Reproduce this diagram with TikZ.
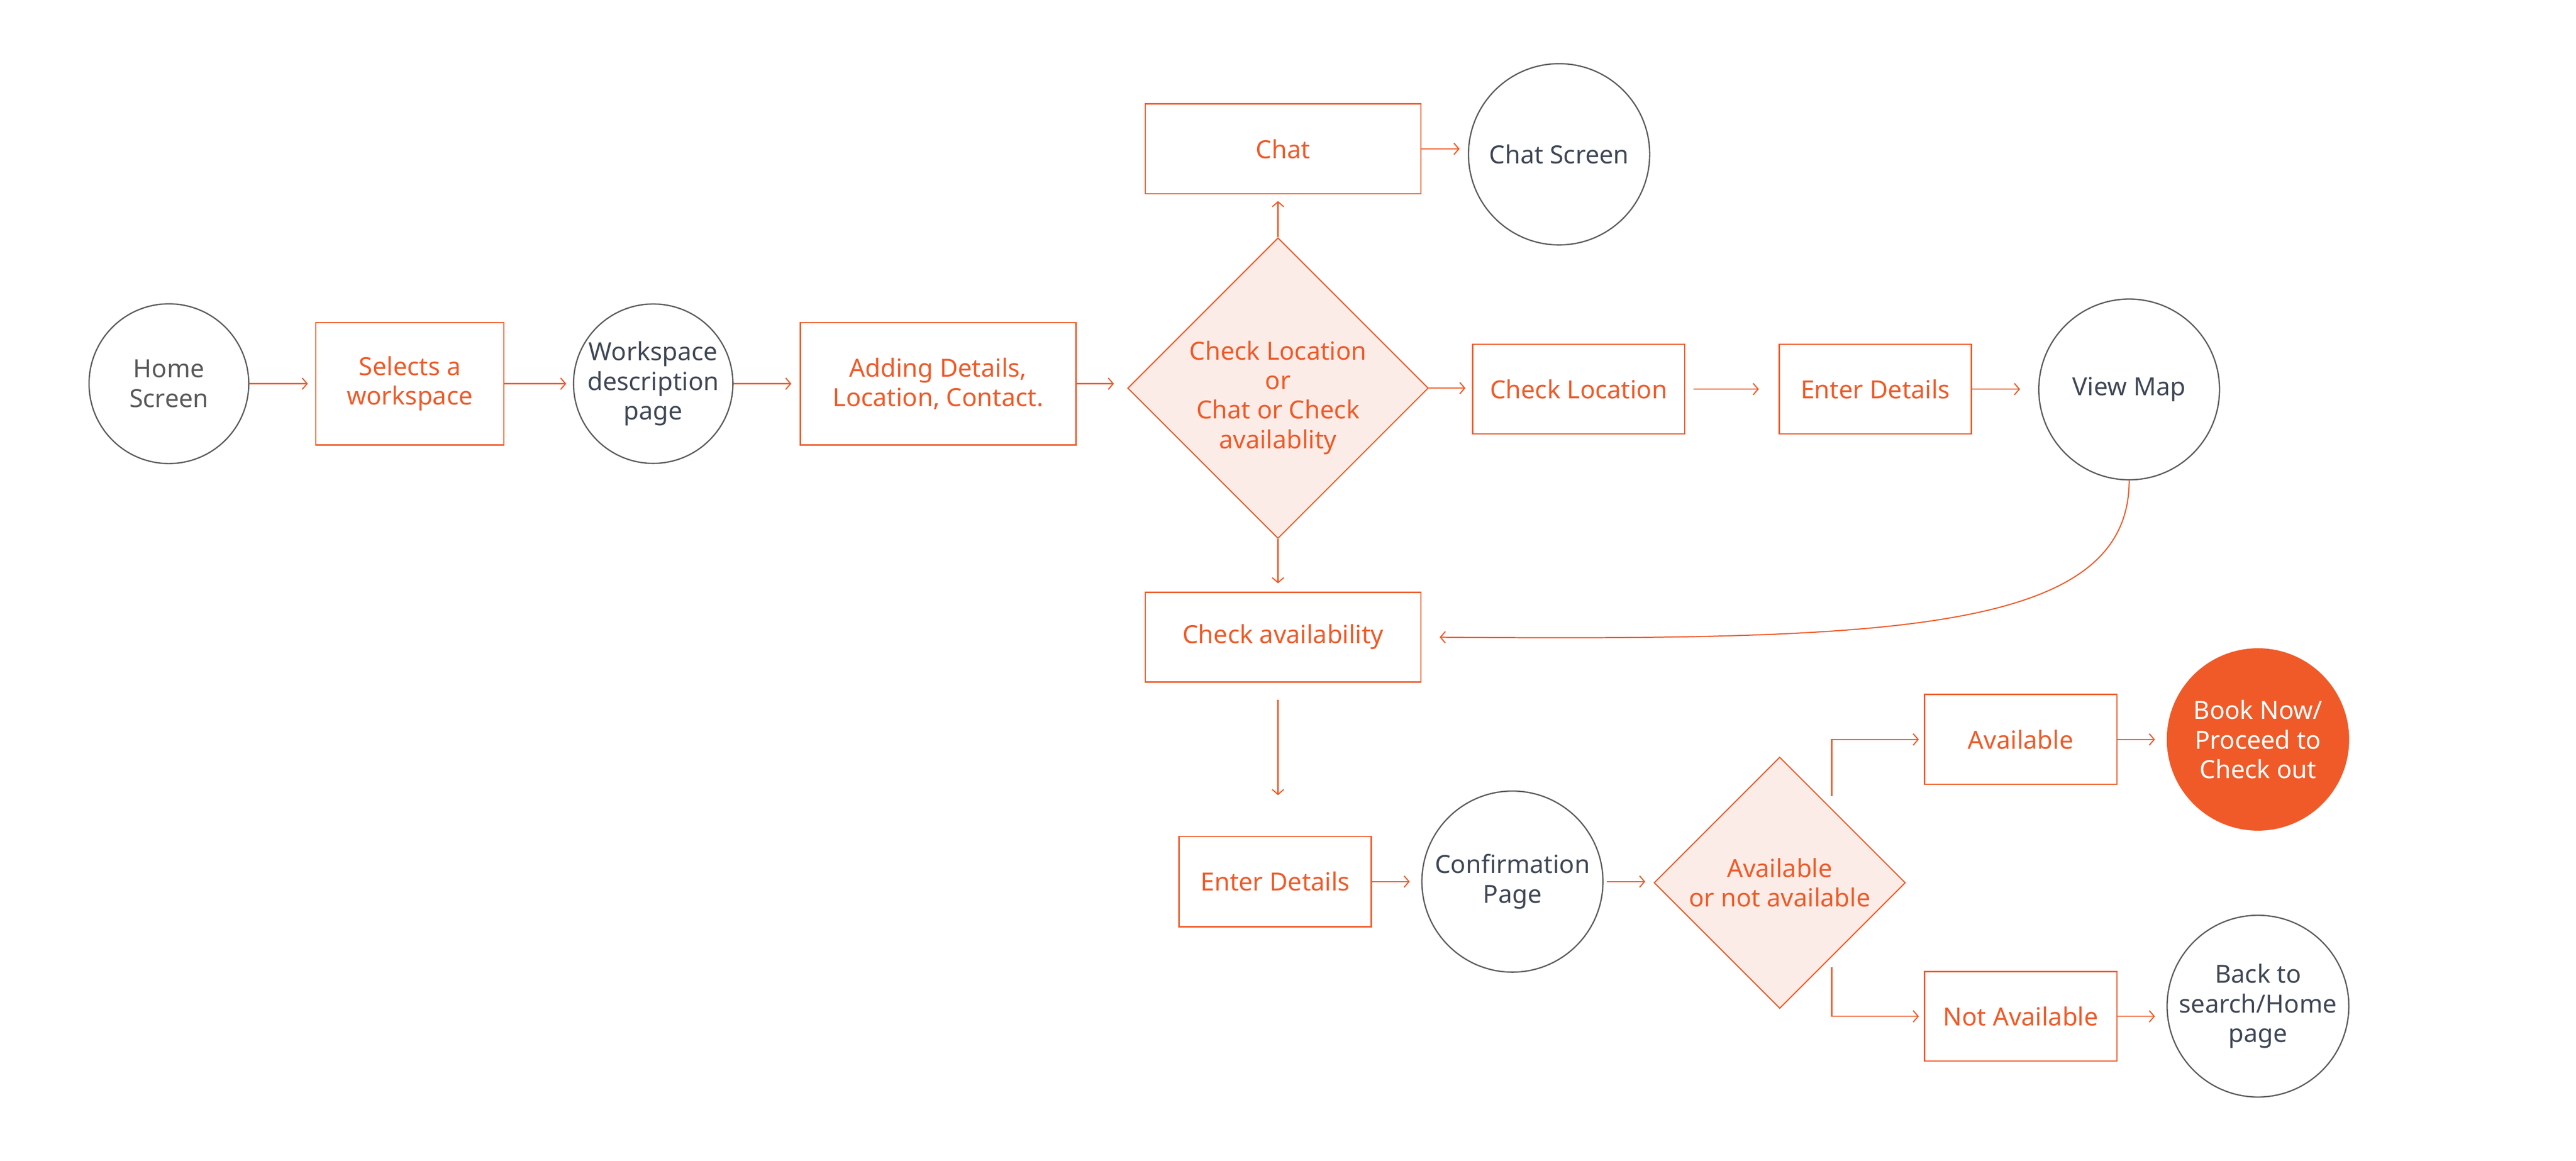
\documentclass[tikz,border=0pt]{standalone}
\usepackage{fontspec}
\setmainfont{Noto Sans}
\usetikzlibrary{shapes.geometric,arrows.meta}
\definecolor{org}{HTML}{F05A28}
\definecolor{pinkf}{HTML}{FCECE7}
\definecolor{gline}{HTML}{5C5C5C}
\definecolor{slate}{HTML}{3F4756}
\definecolor{gtext}{HTML}{595959}
\begin{document}
\begin{tikzpicture}[x=1pt,y=-1pt,
  font=\fontsize{15.2}{18}\selectfont,
  box/.style={rectangle,draw=org,line width=0.8pt,text=org,inner sep=0pt,align=center},
  circ/.style={circle,draw=gline,line width=0.8pt,text=slate,inner sep=0pt,align=center},
  dia/.style={diamond,aspect=1,draw=org,fill=pinkf,line width=0.7pt,text=org,inner sep=0pt,align=center},
  arr/.style={draw=org,line width=0.7pt,-{Straight Barb[length=3pt,width=7pt]}}]
\useasboundingbox (0,0) rectangle (1568,706.4);
% nodes
\node[circ,text=gtext,minimum size=97.2pt] (home) at (102.8,233.5) {Home\\Screen};
\node[box,minimum width=114.4pt,minimum height=74.5pt] (sel) at (249.5,233.5) {Selects a\\workspace};
\node[circ,minimum size=97pt] (wsp) at (397.6,233.5) {Workspace\\description\\page};
\node[box,minimum width=167.8pt,minimum height=74.5pt] (add) at (571,233.5) {Adding Details,\\Location, Contact.};
\node[dia,minimum width=183pt,minimum height=183pt] (d1) at (777.9,236.2) {};
\node[text=org,align=center,inner sep=0pt] (d1t) at (777.9,242) {Check Location\\or\\Chat or Check\\availablity};
\node[box,minimum width=167.8pt,minimum height=54.7pt] (chat) at (781,90.6) {Chat};
\node[circ,minimum size=110.3pt] (chs) at (949,93.9) {Chat Screen};
\node[box,minimum width=129pt,minimum height=54.6pt] (cloc) at (960.9,236.8) {Check Location};
\node[box,minimum width=117pt,minimum height=54.6pt] (ent1) at (1141.5,236.8) {Enter Details};
\node[circ,minimum size=110pt] (vmap) at (1296,237) {View Map};
\node[box,minimum width=167.8pt,minimum height=54.6pt] (cav) at (781,387.7) {Check availability};
\node[box,minimum width=117pt,minimum height=55pt] (ent2) at (776.2,536.5) {Enter Details};
\node[circ,minimum size=110.2pt] (conf) at (920.6,536.5) {Confirmation\\Page};
\node[dia,minimum width=153pt,minimum height=153pt] (d2) at (1083.3,537.2) {Available\\or not available};
\node[box,minimum width=117.2pt,minimum height=54.7pt] (avail) at (1230,450) {Available};
\node[box,minimum width=117.2pt,minimum height=54.5pt] (navail) at (1230,618.5) {Not Available};
\node[circle,fill=org,text=white,inner sep=0pt,align=center,minimum size=111pt] (book) at (1374.4,450) {Book Now/\\Proceed to\\Check out};
\node[circ,minimum size=110.6pt] (back) at (1374.4,612.3) {Back to\\search/Home\\page};
\coordinate (e1) at (1115,484.5);
\coordinate (e2) at (1115,588.5);
% connectors
\draw[arr,shorten >=4.5pt] (home.east) -- (sel.west);
\draw[arr,shorten >=4pt] (sel.east) -- (wsp.west);
\draw[arr,shorten >=5pt] (wsp.east) -- (add.west);
\draw[arr,shorten >=8pt] (add.east) -- (add.east -| d1.west);
\draw[arr,shorten >=4pt] (d1.north) -- (d1.north |- chat.south);
\draw[arr,shorten >=5pt] (chat.east) -- (chat.east -| chs.west);
\draw[arr,shorten >=4pt] (d1.east) -- (d1.east -| cloc.west);
\draw[arr,shorten <=5pt,shorten >=12pt] (cloc.east) -- (ent1.west);
\draw[arr,shorten >=11pt] (ent1.east) -- (ent1.east -| vmap.west);
\draw[arr,shorten >=11pt] (vmap.south) .. controls +(0,93) and +(285,2) .. (cav.east);
\draw[arr,shorten >=5pt] (d1.south) -- (d1.south |- cav.north);
\draw[arr,shorten <=10.5pt,shorten >=24.7pt] (d1.south |- cav.south) -- (d1.south |- ent2.north);
\draw[arr,shorten >=7pt] (ent2.east) -- (ent2.east -| conf.west);
\draw[arr,shorten <=2pt,shorten >=5pt] (conf.east) -- (conf.east -| d2.west);
\draw[arr,shorten >=3pt] (e1) |- (avail.west);
\draw[arr,shorten >=3pt] (e2) |- (navail.west);
\draw[arr,shorten >=7pt] (avail.east) -- (avail.east -| book.west);
\draw[arr,shorten >=7pt] (navail.east) -- (navail.east -| back.west);
\end{tikzpicture}
\end{document}
